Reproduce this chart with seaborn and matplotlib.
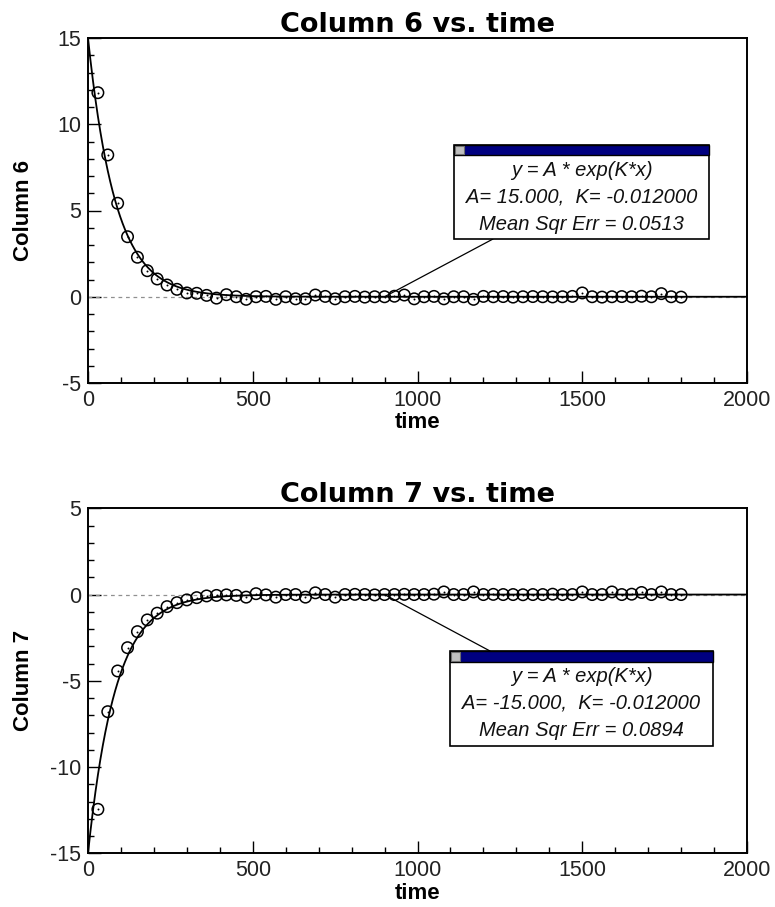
import numpy as np
import pandas as pd
import matplotlib
matplotlib.use("Agg")
import matplotlib.pyplot as plt
from matplotlib.patches import Rectangle
from matplotlib.ticker import MultipleLocator
import seaborn as sns

# ---------------- data ----------------
time = [30, 60, 90, 120, 150, 180, 210, 240, 270, 300,
        330, 360, 390, 420, 450, 480, 510, 540, 570, 600,
        630, 660, 690, 720, 750, 780, 810, 840, 870, 900,
        930, 960, 990, 1020, 1050, 1080, 1110, 1140, 1170, 1200,
        1230, 1260, 1290, 1320, 1350, 1380, 1410, 1440, 1470, 1500,
        1530, 1560, 1590, 1620, 1650, 1680, 1710, 1740, 1770, 1800]

col6 = [11.83, 8.22, 5.42, 3.48, 2.29, 1.51, 1.03, 0.68, 0.43, 0.22,
        0.20, 0.08, -0.08, 0.12, 0.00, -0.15, 0.00, 0.02, -0.15, 0.00,
        -0.12, -0.12, 0.10, 0.02, -0.12, 0.00, 0.02, -0.02, 0.00, 0.00,
        0.03, 0.10, -0.12, 0.00, 0.02, -0.12, 0.00, 0.00, -0.15, 0.02,
        0.00, 0.01, -0.02, 0.00, 0.01, 0.00, -0.01, 0.00, 0.02, 0.22,
        0.00, -0.02, 0.00, 0.01, 0.00, 0.03, 0.00, 0.18, 0.00, -0.02]

col7 = [-12.45, -6.79, -4.43, -3.08, -2.15, -1.47, -1.08, -0.70, -0.47, -0.31,
        -0.18, -0.08, -0.05, -0.02, -0.05, -0.15, 0.05, -0.02, -0.15, 0.00,
        0.00, -0.15, 0.10, 0.00, -0.15, 0.00, 0.01, 0.00, -0.02, 0.00,
        0.00, 0.01, 0.00, 0.00, 0.02, 0.15, 0.00, 0.00, 0.15, 0.00,
        0.01, 0.00, 0.00, -0.01, 0.00, 0.00, 0.02, 0.00, 0.00, 0.15,
        0.00, 0.00, 0.15, 0.00, 0.02, 0.12, 0.00, 0.15, 0.00, 0.00]

fit6 = {"A": 15.000, "K": -0.012000, "mse": 0.0513}
fit7 = {"A": -15.000, "K": -0.012000, "mse": 0.0894}

panels = [
    {"col": "Column 6", "y": col6, "fit": fit6, "ylim": (-5, 15),
     "yticks": [-5, 0, 5, 10, 15], "ann": "A= 15.000,  K= -0.012000",
     "mse": "Mean Sqr Err = 0.0513"},
    {"col": "Column 7", "y": col7, "fit": fit7, "ylim": (-15, 5),
     "yticks": [-15, -10, -5, 0, 5], "ann": "A= -15.000,  K= -0.012000",
     "mse": "Mean Sqr Err = 0.0894"},
]
xticks = [0, 500, 1000, 1500, 2000]

# ---------------- style ----------------
sns.set_style("white")
plt.rcParams["axes.unicode_minus"] = False
plt.rcParams["font.family"] = ["Liberation Sans", "DejaVu Sans"]
plt.rcParams["text.color"] = "black"
plt.rcParams["axes.labelcolor"] = "black"

W, H = 775, 907
fig = plt.figure(figsize=(W / 100, H / 100), dpi=100)


def fx(x):
    return x / W


def fy(y):
    return 1 - y / H


# axes boxes in pixels: (left, top, right, bottom)
ax_px = [(88, 38, 747, 383), (88, 508.3, 747, 853.3)]
box_px = [
    {"x0": 454, "x1": 709, "y0": 145, "y1": 239, "bar": 10, "lines": [170, 197, 225],
     "ptr": (493, 239)},
    {"x0": 450, "x1": 713, "y0": 651, "y1": 746, "bar": 11, "lines": [676, 703, 731],
     "ptr": (490, 651)},
]

for p, (l, t, r, b), bx in zip(panels, ax_px, box_px):
    ax = fig.add_axes([fx(l), fy(b), (r - l) / W, (b - t) / H])
    df = pd.DataFrame({"time": time, p["col"]: p["y"]})

    # reference dashed zero line
    ax.axhline(0, color="#909090", lw=0.9, ls=(0, (3, 3)), zorder=1)

    # fitted curve from displayed parameters
    tfit = np.linspace(0, 2000, 801)
    fdf = pd.DataFrame({"time": tfit,
                        "fit": p["fit"]["A"] * np.exp(p["fit"]["K"] * tfit)})
    sns.lineplot(data=fdf, x="time", y="fit", ax=ax, color="black", lw=1.3, zorder=2)

    # data points
    sns.scatterplot(data=df, x="time", y=p["col"], ax=ax, marker="o", s=68,
                    facecolor="none", edgecolor="black", linewidth=1.1, zorder=3)
    sns.scatterplot(data=df, x="time", y=p["col"], ax=ax, marker="o", s=2,
                    color="black", linewidth=0, zorder=4)

    ax.set_xlim(0, 2000)
    ax.set_ylim(*p["ylim"])
    ax.set_xticks(xticks)
    ax.set_yticks(p["yticks"])
    ax.xaxis.set_minor_locator(MultipleLocator(100))
    ax.yaxis.set_minor_locator(MultipleLocator(1))
    ax.tick_params(which="both", direction="in", color="black", width=1,
                   bottom=True, left=True, top=False, right=False,
                   labelsize=15.5, labelcolor="#222222")
    ax.tick_params(which="major", length=9)
    ax.tick_params(which="minor", length=4.5)
    ax.tick_params(axis="x", pad=5)
    ax.tick_params(axis="y", pad=5)
    for s in ax.spines.values():
        s.set_color("black")
        s.set_linewidth(1.4)
        s.set_visible(True)

    ax.set_title(f"{p['col']} vs. time", fontsize=19.5, fontweight="bold",
                 family="DejaVu Sans", color="black", pad=4)
    ax.set_xlabel("time", fontsize=16, fontweight="bold", color="black")
    ax.set_ylabel(p["col"], fontsize=16, fontweight="bold", color="black")
    ax.xaxis.set_label_coords(0.5, -0.085)
    ax.yaxis.set_label_coords(-0.082, 0.5)

    # pointer from data point to the box
    ax.annotate("", xy=(900, 0), xycoords="data",
                xytext=(fx(bx["ptr"][0]), fy(bx["ptr"][1])), textcoords="figure fraction",
                arrowprops=dict(arrowstyle="-", color="black", lw=0.9,
                                shrinkA=0, shrinkB=0), zorder=5)

    # fit info box
    x0, x1, y0, y1 = bx["x0"], bx["x1"], bx["y0"], bx["y1"]
    fig.add_artist(Rectangle((fx(x0), fy(y1)), (x1 - x0) / W, (y1 - y0) / H,
                             transform=fig.transFigure, facecolor="white",
                             edgecolor="black", lw=1.2, zorder=10))
    fig.add_artist(Rectangle((fx(x0), fy(y0 + bx["bar"])), (x1 - x0) / W, bx["bar"] / H,
                             transform=fig.transFigure, facecolor="#000080",
                             edgecolor="black", lw=1.0, zorder=11))
    fig.add_artist(Rectangle((fx(x0 + 1), fy(y0 + bx["bar"] - 1)), 9 / W, (bx["bar"] - 2) / H,
                             transform=fig.transFigure, facecolor="#c0c0c0",
                             edgecolor="#707070", lw=0.8, zorder=12))
    cx = (x0 + x1) / 2
    for txt, yy in zip(["y = A * exp(K*x)", p["ann"], p["mse"]], bx["lines"]):
        fig.text(fx(cx), fy(yy), txt, ha="center", va="center", fontsize=14.5,
                 style="italic", color="#111111", zorder=13)

fig.savefig("out.png", dpi=100, facecolor="white")
